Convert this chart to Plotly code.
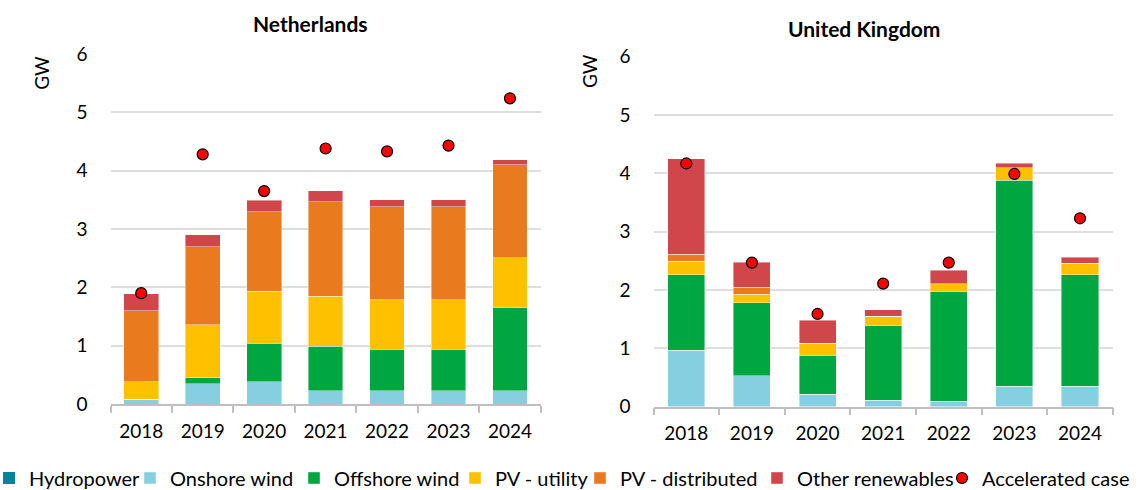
import plotly.graph_objects as go

years = ["2018", "2019", "2020", "2021", "2022", "2023", "2024"]

series_names = ["Hydropower", "Onshore wind", "Offshore wind", "PV - utility",
                "PV - distributed", "Other renewables"]
series_colors = ["#00859B", "#86CFE1", "#00A63F", "#FFC000", "#E97B1E", "#D1464A"]

# Netherlands (GW)
nl_hydro = [0, 0, 0, 0, 0, 0, 0]
nl_onshore = [0.08, 0.35, 0.38, 0.23, 0.23, 0.23, 0.23]
nl_offshore = [0.00, 0.10, 0.66, 0.76, 0.71, 0.71, 1.42]
nl_pv_utility = [0.30, 0.91, 0.89, 0.86, 0.85, 0.85, 0.86]
nl_pv_distributed = [1.22, 1.34, 1.37, 1.62, 1.59, 1.59, 1.59]
nl_other = [0.29, 0.20, 0.19, 0.19, 0.12, 0.12, 0.09]
nl_accelerated = [1.90, 4.28, 3.65, 4.38, 4.33, 4.43, 5.24]

# United Kingdom (GW)
uk_hydro = [0, 0, 0, 0, 0, 0, 0]
uk_onshore = [0.97, 0.53, 0.21, 0.11, 0.09, 0.35, 0.35]
uk_offshore = [1.29, 1.25, 0.66, 1.28, 1.88, 3.53, 1.91]
uk_pv_utility = [0.23, 0.15, 0.22, 0.16, 0.14, 0.22, 0.20]
uk_pv_distributed = [0.12, 0.12, 0.00, 0.00, 0.00, 0.00, 0.00]
uk_other = [1.64, 0.43, 0.39, 0.11, 0.23, 0.07, 0.10]
uk_accelerated = [4.17, 2.47, 1.59, 2.11, 2.47, 3.99, 3.23]

y_ticks = [0, 1, 2, 3, 4, 5, 6]

FONT = "Lato"
W, H = 1141, 490

nl_series = [nl_hydro, nl_onshore, nl_offshore, nl_pv_utility, nl_pv_distributed, nl_other]
uk_series = [uk_hydro, uk_onshore, uk_offshore, uk_pv_utility, uk_pv_distributed, uk_other]

fig = go.Figure()

legend_ids = ["legend", "legend2", "legend3", "legend4", "legend5", "legend6", "legend7"]

for i, (name, color) in enumerate(zip(series_names, series_colors)):
    lw = 0 if name == "Hydropower" else 0.6
    fig.add_trace(go.Bar(x=years, y=nl_series[i], name=name, marker_color=color,
                         marker_line=dict(color="rgba(255,255,255,0.7)", width=lw),
                         xaxis="x", yaxis="y", legend=legend_ids[i], showlegend=True))
    fig.add_trace(go.Bar(x=years, y=uk_series[i], name=name, marker_color=color,
                         marker_line=dict(color="rgba(255,255,255,0.7)", width=lw),
                         xaxis="x2", yaxis="y2", showlegend=False))

marker_style = dict(color="#FF0000", size=11, line=dict(color="#000000", width=1.2))
fig.add_trace(go.Scatter(x=years, y=nl_accelerated, mode="markers", name="Accelerated case",
                         marker=marker_style, xaxis="x", yaxis="y",
                         legend="legend7", showlegend=True))
fig.add_trace(go.Scatter(x=years, y=uk_accelerated, mode="markers", name="Accelerated case",
                         marker=marker_style, xaxis="x2", yaxis="y2", showlegend=False))

def px_x(p):
    return p / W

def px_y(p):
    return 1 - p / H

xaxis_common = dict(type="category", range=[-0.5, 6.5], showline=True, linecolor="#BFBFBF",
                    linewidth=1.5, ticks="outside", tickson="boundaries", ticklen=7,
                    tickcolor="#BFBFBF", tickwidth=1.5, showgrid=False, automargin=False,
                    tickfont=dict(family=FONT, size=19, color="#000000"),
                    ticklabelstandoff=9)
yaxis_common = dict(range=[0, 6], tickvals=y_ticks, showgrid=True, gridcolor="#DEDEDE",
                    gridwidth=1.5, zeroline=False, showline=False, ticks="", automargin=False,
                    tickfont=dict(family=FONT, size=19, color="#000000"),
                    ticklabelstandoff=22)

layout = dict(
    width=W, height=H,
    margin=dict(l=0, r=0, t=0, b=0, pad=0, autoexpand=False),
    paper_bgcolor="white", plot_bgcolor="white",
    barmode="stack", bargap=0.435,
    font=dict(family=FONT, color="#000000"),
    xaxis=dict(domain=[px_x(110.5), px_x(540.7)], anchor="y", **xaxis_common),
    yaxis=dict(domain=[px_y(404), px_y(54)], anchor="x", **yaxis_common),
    xaxis2=dict(domain=[px_x(653.5), px_x(1112.8)], anchor="y2", **xaxis_common),
    yaxis2=dict(domain=[px_y(406.7), px_y(56.7)], anchor="x2", **yaxis_common),
    annotations=[
        dict(text="<b>Netherlands</b>", x=px_x(310), y=px_y(23.5), xref="paper", yref="paper",
             xanchor="center", yanchor="middle", showarrow=False,
             font=dict(family=FONT, size=21, color="#000000")),
        dict(text="<b>United Kingdom</b>", x=px_x(863.5), y=px_y(28), xref="paper", yref="paper",
             xanchor="center", yanchor="middle", showarrow=False,
             font=dict(family=FONT, size=21, color="#000000")),
        dict(text="GW", x=px_x(40.7), y=px_y(73), xref="paper", yref="paper", textangle=-90,
             xanchor="center", yanchor="middle", showarrow=False,
             font=dict(family=FONT, size=19, color="#000000")),
        dict(text="GW", x=px_x(590), y=px_y(71), xref="paper", yref="paper", textangle=-90,
             xanchor="center", yanchor="middle", showarrow=False,
             font=dict(family=FONT, size=19, color="#000000")),
    ],
)

text_starts = [29, 170, 334, 495, 620, 797, 982]
for lid, ts in zip(legend_ids, text_starts):
    layout[lid] = dict(x=px_x(ts - 40), y=px_y(478), xanchor="left", yanchor="middle",
                       orientation="h", bgcolor="rgba(0,0,0,0)", borderwidth=0,
                       font=dict(family=FONT, size=20, color="#000000"),
                       traceorder="normal")

fig.update_layout(**layout)

fig.write_html("out.html", config={"displayModeBar": False},
               post_script="document.body.style.margin='0';document.body.style.overflow='hidden';")
